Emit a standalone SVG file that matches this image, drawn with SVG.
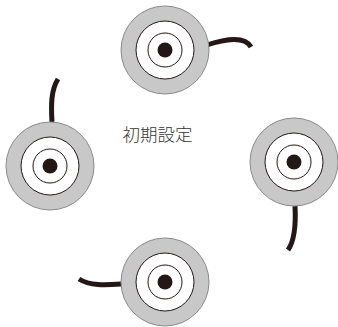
<svg xmlns="http://www.w3.org/2000/svg" width="338" height="327" viewBox="0 0 338 327">
<defs>
<style>
.ring{fill:#c8c8c8;stroke:#8a8a8a;stroke-width:1}
.mid{fill:#fff;stroke:#231815;stroke-width:1}
.dot{fill:#231815}
.tail{fill:none;stroke:#231815;stroke-width:5;stroke-linecap:butt}
.lbl{font-family:"Noto Sans CJK JP","Noto Sans",sans-serif;font-size:17.5px;font-weight:300;fill:#333}
</style>
<g id="reel">
<circle r="44" class="ring"/>
<circle r="29" class="mid"/>
<circle r="17" class="mid"/>
<circle r="7.5" class="dot"/>
</g>
</defs>
<g id="connectors">
<path class="tail" d="M207,45 C225,39 245,36 251,47"/>
<path class="tail" d="M295,206 C296,225 295,240 288,250"/>
<path class="tail" d="M122,284 C105,285 90,286 79,279"/>
<path class="tail" d="M52,122 C51,105 51,90 58,79"/>
</g>
<g id="node-top"><use href="#reel" x="165" y="50"/></g>
<g id="node-right"><use href="#reel" x="294" y="162"/></g>
<g id="node-bottom"><use href="#reel" x="165" y="282"/></g>
<g id="node-left"><use href="#reel" x="50" y="166"/></g>
<g id="label"><text class="lbl" x="157.5" y="140.5" text-anchor="middle">初期設定</text></g>
</svg>
